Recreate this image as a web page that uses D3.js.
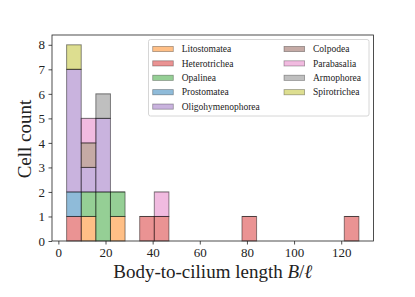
<!DOCTYPE html>
<meta charset="utf-8">
<title>Cell count histogram</title>
<style>
body {
  margin: 0px;
  background: #fff;
}
svg text {
  font-family: "Liberation Serif", serif;
  fill: #222;
}
.bar {
  stroke: #000;
  stroke-opacity: 0.45;
  stroke-width: 1;
}
</style>

<script src="https://d3js.org/d3.v7.min.js"></script>

<body>
<script>
var width = 415, height = 297;

// classes in stacking order (bottom to top)
var classes = ["Litostomatea", "Heterotrichea", "Opalinea", "Prostomatea",
  "Oligohymenophorea", "Colpodea", "Parabasalia", "Armophorea", "Spirotrichea"];
var colors = ["#ff7f0e", "#d62728", "#2ca02c", "#1f77b4",
  "#9467bd", "#8c564b", "#e377c2", "#7f7f7f", "#bcbd22"];

// histogram bin edges (20 bins)
var binEdges = [3.5, 9.7, 15.9, 22.1, 28.3, 34.5, 40.7, 46.9, 53.1, 59.3, 65.5,
  71.7, 77.9, 84.1, 90.3, 96.5, 102.7, 108.9, 115.1, 121.3, 127.5];

// counts per bin for each class
var litostomatea      = [0,1,0,1,0,0,0,0,0,0,0,0,0,0,0,0,0,0,0,0];
var heterotrichea     = [1,0,0,0,0,1,1,0,0,0,0,0,1,0,0,0,0,0,0,1];
var opalinea          = [0,1,2,1,0,0,0,0,0,0,0,0,0,0,0,0,0,0,0,0];
var prostomatea       = [1,0,0,0,0,0,0,0,0,0,0,0,0,0,0,0,0,0,0,0];
var oligohymenophorea = [5,1,3,0,0,0,0,0,0,0,0,0,0,0,0,0,0,0,0,0];
var colpodea          = [0,1,0,0,0,0,0,0,0,0,0,0,0,0,0,0,0,0,0,0];
var parabasalia       = [0,1,0,0,0,0,1,0,0,0,0,0,0,0,0,0,0,0,0,0];
var armophorea        = [0,0,1,0,0,0,0,0,0,0,0,0,0,0,0,0,0,0,0,0];
var spirotrichea      = [1,0,0,0,0,0,0,0,0,0,0,0,0,0,0,0,0,0,0,0];

var xTicks = [0, 20, 40, 60, 80, 100, 120];
var yTicks = [0, 1, 2, 3, 4, 5, 6, 7, 8];

var series = [litostomatea, heterotrichea, opalinea, prostomatea,
  oligohymenophorea, colpodea, parabasalia, armophorea, spirotrichea];

// build table for d3.stack
var table = binEdges.slice(0, -1).map(function(x0, i) {
  var row = { x0: x0, x1: binEdges[i + 1] };
  classes.forEach(function(c, j) { row[c] = series[j][i]; });
  return row;
});

var margin = { left: 52, right: 41.5, top: 35, bottom: 56 };

var x = d3.scaleLinear()
    .domain([-2.7, 133.7])
    .range([margin.left, width - margin.right]);
var y = d3.scaleLinear()
    .domain([0, 8.4])
    .range([height - margin.bottom, margin.top]);

var svg = d3.select("body").append("svg")
    .attr("width", width)
    .attr("height", height);

var stacked = d3.stack().keys(classes)(table);

var layers = svg.selectAll("g.layer")
    .data(stacked)
  .enter().append("g")
    .attr("class", "layer")
    .attr("fill", function(d, i) { return colors[i]; })
    .attr("fill-opacity", 0.5);

layers.selectAll("rect")
    .data(function(d) { return d.filter(function(s) { return s[1] > s[0]; }); })
  .enter().append("rect")
    .attr("class", "bar")
    .attr("x", function(d) { return x(d.data.x0); })
    .attr("width", function(d) { return x(d.data.x1) - x(d.data.x0); })
    .attr("y", function(d) { return y(d[1]); })
    .attr("height", function(d) { return y(d[0]) - y(d[1]); });

// empty bars sitting on top of a stack still leave a faint edge line
layers.selectAll("line")
    .data(function(d) { return d.filter(function(s) { return s[1] === s[0] && s[1] > 0; }); })
  .enter().append("line")
    .attr("x1", function(d) { return x(d.data.x0); })
    .attr("x2", function(d) { return x(d.data.x1); })
    .attr("y1", function(d) { return y(d[1]); })
    .attr("y2", function(d) { return y(d[1]); })
    .attr("stroke", "#000")
    .attr("stroke-opacity", 0.08)
    .attr("stroke-width", 1);

// axes
var xAxis = svg.append("g")
    .attr("transform", "translate(0," + (height - margin.bottom) + ")")
    .call(d3.axisBottom(x).tickValues(xTicks).tickSize(3.5).tickPadding(3.5));
var yAxis = svg.append("g")
    .attr("transform", "translate(" + margin.left + ",0)")
    .call(d3.axisLeft(y).tickValues(yTicks).tickSize(3.5).tickPadding(3.5));

[xAxis, yAxis].forEach(function(a) {
  a.select(".domain").remove();
  a.selectAll("line").attr("stroke", "#222").attr("stroke-width", 0.8);
  a.selectAll("text")
      .style("font-family", "'Liberation Serif', serif")
      .style("font-size", "13px")
      .attr("fill", "#222");
});

// frame
svg.append("rect")
    .attr("x", margin.left)
    .attr("y", margin.top)
    .attr("width", width - margin.right - margin.left)
    .attr("height", height - margin.bottom - margin.top)
    .attr("fill", "none")
    .attr("stroke", "#222")
    .attr("stroke-width", 0.8);

// axis labels
svg.append("text")
    .attr("x", (margin.left + width - margin.right) / 2)
    .attr("y", 278)
    .attr("text-anchor", "middle")
    .style("font-size", "19px")
    .html("Body-to-cilium length <tspan font-style='italic'>B</tspan>/<tspan font-style='italic'>ℓ</tspan>");

svg.append("text")
    .attr("transform", "translate(31,139) rotate(-90)")
    .attr("text-anchor", "middle")
    .style("font-size", "19px")
    .text("Cell count");

// legend
var lg = svg.append("g");
lg.append("rect")
    .attr("x", 148.5)
    .attr("y", 39.5)
    .attr("width", 220.5)
    .attr("height", 76.5)
    .attr("rx", 2)
    .attr("fill", "#fff")
    .attr("fill-opacity", 0.8)
    .attr("stroke", "#ccc")
    .attr("stroke-width", 0.8);

var items = lg.selectAll("g.item")
    .data(classes)
  .enter().append("g")
    .attr("class", "item")
    .attr("transform", function(d, i) {
      var col = i < 5 ? 0 : 1, row = i < 5 ? i : i - 5;
      return "translate(" + (col ? 284 : 152.7) + "," + (49 + row * 14.4) + ")";
    });

items.append("rect")
    .attr("x", 0)
    .attr("y", -2.6)
    .attr("width", 20.6)
    .attr("height", 5.2)
    .attr("fill", function(d, i) { return colors[i]; })
    .attr("fill-opacity", 0.5)
    .attr("stroke", "#000")
    .attr("stroke-opacity", 0.35)
    .attr("stroke-width", 0.8);

items.append("text")
    .attr("x", 29)
    .attr("dy", "0.33em")
    .style("font-size", "9.5px")
    .text(function(d) { return d; });
</script>
